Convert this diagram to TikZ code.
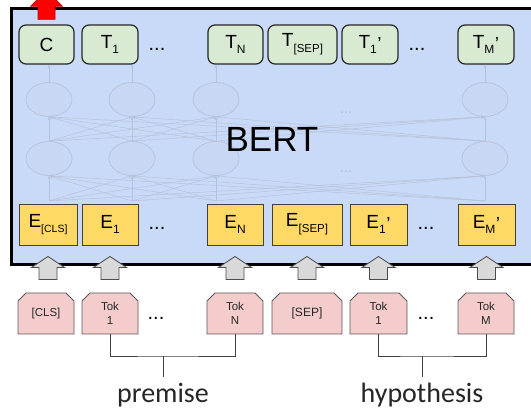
\documentclass[tikz,border=0pt]{standalone}
\usepackage{fontspec}
\setmainfont{Liberation Sans}
\newfontfamily\labelfont{Carlito}
\usepackage{xcolor}
\usepackage{tikz}
\usetikzlibrary{arrows.meta,shapes.misc,shapes.geometric}

\definecolor{bertblue}{HTML}{C9DAF8}
\definecolor{outgreen}{HTML}{D9EAD3}
\definecolor{embyellow}{HTML}{FFD966}
\definecolor{tokpink}{HTML}{F4CCCC}
\definecolor{arrowgray}{HTML}{D9D9D9}
\definecolor{neurongray}{HTML}{B6C2DA}

\newcommand{\tsub}[3][12]{#2\raisebox{-0.3em}{\fontsize{#1}{#1}\selectfont #3}}
\newcommand{\tsubp}[2]{#1\raisebox{-0.3em}{\fontsize{12}{12}\selectfont #2}\kern0.5pt\raisebox{-2pt}{’}}

\tikzset{
  bertframe/.style={draw=black, fill=bertblue, line width=3pt},
  tbox/.style={draw=black!85, fill=outgreen, rounded corners=7pt, line width=1.2pt,
    minimum height=39pt, inner sep=0pt, font=\fontsize{19}{20}\selectfont},
  ebox/.style={draw=black!75, fill=embyellow, line width=0.9pt,
    minimum height=41pt, inner sep=0pt, font=\fontsize{19}{20}\selectfont},
  tokbox/.style={draw=black!65, fill=tokpink, line width=0.9pt, chamfered rectangle,
    chamfered rectangle corners={north west,north east},
    chamfered rectangle xsep=4pt, chamfered rectangle ysep=4pt,
    minimum height=41pt, inner sep=0pt, align=center, text=black!85,
    font=\fontsize{11.5}{14}\selectfont},
  neuron/.style={ellipse, draw=neurongray, fill=neurongray!12!bertblue, line width=0.7pt,
    minimum width=46pt, minimum height=34pt, inner sep=0pt},
  wire/.style={draw=neurongray, line width=0.5pt, -{Stealth[length=3.5pt,width=3pt]}},
  blockarrow/.style={fill=arrowgray, draw=black!70, line width=0.8pt},
  redarrow/.style={fill=red, draw=red!75!black, line width=0.6pt},
  dots/.style={anchor=base, inner sep=0pt, font=\fontsize{20}{20}\selectfont},
  bracket/.style={draw=black!75, line width=0.9pt},
  lbl/.style={anchor=north, inner sep=0pt, text height=25pt, text depth=7pt,
    text=black!85, font=\labelfont\fontsize{28}{30}\selectfont}
}

\begin{document}
\begin{tikzpicture}[x=1pt,y=-1pt]
  \useasboundingbox (0,0) rectangle (531,411);
  \fill[white] (0,0) rectangle (531,411);

  % the BERT block
  \draw[bertframe] (11.5,8.5) rectangle (545,265);

  % faint hidden layers
  \foreach \i/\x in {1/49,2/132,3/216,4/485} {
    \node[neuron] (u\i) at (\x,99.5) {};
    \node[neuron] (l\i) at (\x,158.5) {};
    \coordinate (s\i) at (\x,201);
  }
  \foreach \i in {1,...,4}
    \foreach \j in {1,...,4} {
      \draw[wire] (s\i) -- (l\j.south);
      \draw[wire] (l\i.north) -- (u\j.south);
    }
  \node[dots, font=\fontsize{15}{15}\selectfont, text=neurongray] (hdots1) at (346,114) {...};
  \node[dots, font=\fontsize{15}{15}\selectfont, text=neurongray] (hdots2) at (346,173) {...};

  \node[font=\fontsize{35}{40}\selectfont] (bert) at (272,139.5) {BERT};

  % output row
  \foreach \n/\x/\w/\lab in {tc/46.5/55/C, t1/110/56/{\tsub{T}{1}}, tn/235.5/55/{\tsub{T}{N}},
      tsep/302.5/69/{\tsub[11.5]{T}{[SEP]}}, t1p/370/56/{\tsubp{T}{1}}, tmp/486/56/{\tsubp{T}{M}}}
    \node[tbox, minimum width=\w pt] (\n) at (\x,44.5) {\lab};
  \node[dots] (tdots1) at (157,51) {...};
  \node[dots] (tdots2) at (417,51) {...};

  \foreach \i/\top in {1/tc,2/t1,3/tn,4/tmp}
    \draw[wire] (u\i.north) -- (u\i.north |- \top.south);

  % embedding row
  \foreach \n/\x/\w/\lab in {ec/48/58/{\tsub[10.5]{E}{[CLS]}}, e1/110/56/{\tsub{E}{1}}, en/235/56/{\tsub{E}{N}},
      esep/307/70/{\tsub[11.5]{E}{[SEP]}}, e1p/378.5/57/{\tsubp{E}{1}}, emp/486.5/57/{\tsubp{E}{M}}}
    \node[ebox, minimum width=\w pt] (\n) at (\x,224.5) {\lab};
  \node[dots] (edots1) at (157,230) {...};
  \node[dots] (edots2) at (426,230) {...};

  % input tokens
  \foreach \n/\x/\w/\lab in {kcls/46/56/{[CLS]}, tok1/110/56/{Tok\\1}, tokn/235/56/{Tok\\N},
      ksep/307/70/{\fontsize{12}{14}\selectfont [SEP]}, tok1p/378.5/57/{Tok\\1}, tokm/486/56/{Tok\\M}}
    \node[tokbox, minimum width=\w pt] (\n) at (\x,313.5) {\lab};
  \node[dots] (kdots1) at (156,320) {...};
  \node[dots] (kdots2) at (426,320) {...};

  % arrows into BERT and out of C
  \foreach \e in {ec,e1,en,esep,e1p,emp}
    \draw[blockarrow, shift={(\e.south)}] (0,11) -- (16.5,22) -- (9,22) -- (9,34)
      -- (-9,34) -- (-9,22) -- (-16.5,22) -- cycle;
  \draw[redarrow, shift={(tc.north)}] (-8.5,-5) -- (-8.5,-18) -- (-16,-18) -- (0,-34)
    -- (16,-18) -- (8.5,-18) -- (8.5,-5) -- cycle;

  % premise / hypothesis
  \node[lbl] (premise) at (163,377) {premise};
  \node[lbl] (hypo) at (422,377) {hypothesis};
  \draw[bracket] (tok1.south) |- (premise.north |- 0,356) -| (tokn.south);
  \draw[bracket] (premise.north) -- (premise.north |- 0,356);
  \draw[bracket] (tok1p.south) |- (hypo.north |- 0,356) -| (tokm.south);
  \draw[bracket] (hypo.north) -- (hypo.north |- 0,356);
\end{tikzpicture}
\end{document}
